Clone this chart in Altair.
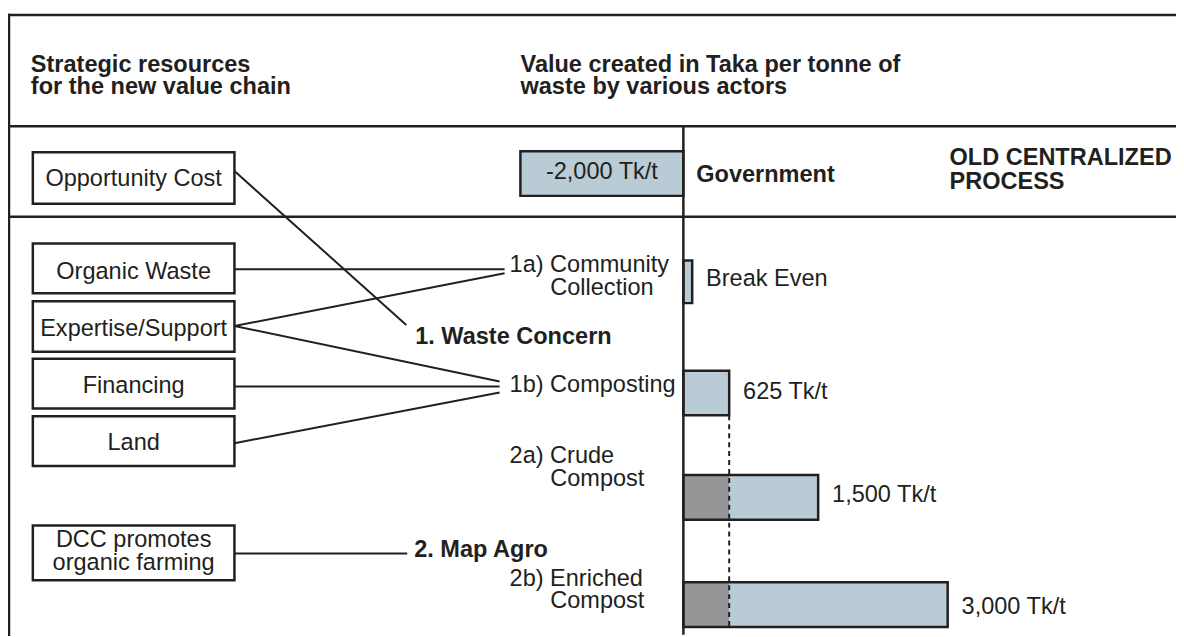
import altair as alt
import pandas as pd

# ---------------- content (texts and values) ----------------
header_left = ["Strategic resources", "for the new value chain"]
header_right = ["Value created in Taka per tonne of", "waste by various actors"]
process_title = ["OLD CENTRALIZED", "PROCESS"]
resource_lines = ["Opportunity Cost", "Organic Waste", "Expertise/Support", "Financing",
                  "Land", "DCC promotes", "organic farming"]
actor_names = ["Government", "1. Waste Concern", "2. Map Agro"]
step_lines = ["1a) Community", "Collection", "1b) Composting", "2a) Crude", "Compost",
              "2b) Enriched", "Compost"]

# value bars (Tk per tonne); extents as drawn in the figure
bar_labels = ["-2,000 Tk/t", "Break Even", "625 Tk/t", "1,500 Tk/t", "3,000 Tk/t"]
bar_start = [-1850, 0, 0, 0, 0]
bar_end = [0, 100, 520, 1530, 3000]
composting_share = [0, 0, 0, 520, 520]   # dark part carried over from composting

# ---------------- layout (page pixels) ----------------
INK = "#231f20"
LIGHT = "#b9cbd5"
DARK = "#969698"
FONT = "Liberation Sans"
FS = 23.7
W, H = 1176, 629
X_LAYOUT = alt.Scale(domain=[8, 1184], nice=False, zero=False)
Y_LAYOUT = alt.Scale(domain=[8, 637], reverse=True, nice=False, zero=False)
ZERO_PX = 688
PX_PER_TK = 0.0887
X_TK = alt.Scale(domain=[(8 - ZERO_PX) / PX_PER_TK, (1184 - ZERO_PX) / PX_PER_TK],
                 nice=False, zero=False)

frame_x = [9, 9, 9, 9]
frame_y = [13, 13, 125, 216]
frame_x2 = [1184, 9, 1184, 1184]
frame_y2 = [13, 637, 125, 216]

box_x0, box_x1 = 33, 236
res_box_top = [151, 243, 301, 359, 417, 527]
res_box_bottom = [203, 293, 352, 409, 467, 582]
res_text_y = [185, 279, 336, 393, 451, 549, 572]

conn_x = [236, 236, 236, 236, 236, 236, 236]
conn_y = [170, 269, 326, 326, 387, 444, 555]
conn_x2 = [409, 508, 508, 503, 503, 503, 410]
conn_y2 = [325, 269, 273, 382, 387, 393, 555]

head_y = [70, 92]
proc_y = [164, 188]
actor_x = [701, 418, 417]
actor_y = [181, 344, 559]
step_x = [513, 554, 513, 513, 554, 513, 554]
step_y = [272, 295, 392, 464, 487, 588, 610]

bar_top = [150, 260, 371, 476, 584]
bar_bottom = [195, 303, 416, 521, 629]
bar_label_y = [178, 286, 400, 503, 616]


def xl(f="x"):
    return alt.X(f"{f}:Q", scale=X_LAYOUT, axis=None)


def xt(f="v"):
    return alt.X(f"{f}:Q", scale=X_TK, axis=None)


def yl(f="y"):
    return alt.Y(f"{f}:Q", scale=Y_LAYOUT, axis=None)


def text_layer(df, xenc, align, weight, dx=0):
    return alt.Chart(df).mark_text(
        align=align, baseline="alphabetic", font=FONT, fontSize=FS,
        fontWeight=weight, color=INK, dx=dx
    ).encode(x=xenc, y=yl(), text="t:N")


# frame lines
frame_df = pd.DataFrame({"x": frame_x, "y": frame_y, "x2": frame_x2, "y2": frame_y2})
frame = alt.Chart(frame_df).mark_rule(color=INK, strokeWidth=2.5, strokeCap="square").encode(
    x=xl(), x2="x2:Q", y=yl(), y2="y2:Q")

# zero line of the value scale
zero_df = pd.DataFrame({"v": [0], "y": [125], "y2": [637]})
zero_rule = alt.Chart(zero_df).mark_rule(color=INK, strokeWidth=2.5).encode(
    x=xt(), y=yl(), y2="y2:Q")

# connectors
conn_df = pd.DataFrame({"x": conn_x, "y": conn_y, "x2": conn_x2, "y2": conn_y2})
conns = alt.Chart(conn_df).mark_rule(color=INK, strokeWidth=2).encode(
    x=xl(), x2="x2:Q", y=yl(), y2="y2:Q")

# resource boxes
box_df = pd.DataFrame({"x": [box_x0] * len(res_box_top), "x2": [box_x1] * len(res_box_top),
                       "y": res_box_top, "y2": res_box_bottom})
boxes = alt.Chart(box_df).mark_rect(fill="white", stroke=INK, strokeWidth=2.5).encode(
    x=xl(), x2="x2:Q", y=yl(), y2="y2:Q")

# bar fills
seg_v, seg_v2, seg_y, seg_y2, seg_k = [], [], [], [], []
for i in range(len(bar_labels)):
    if composting_share[i] > 0:
        seg_v += [bar_start[i], composting_share[i]]
        seg_v2 += [composting_share[i], bar_end[i]]
        seg_y += [bar_top[i]] * 2
        seg_y2 += [bar_bottom[i]] * 2
        seg_k += ["composting", "value"]
    else:
        seg_v.append(bar_start[i])
        seg_v2.append(bar_end[i])
        seg_y.append(bar_top[i])
        seg_y2.append(bar_bottom[i])
        seg_k.append("value")
seg_df = pd.DataFrame({"v": seg_v, "v2": seg_v2, "y": seg_y, "y2": seg_y2, "k": seg_k})
fills = alt.Chart(seg_df).mark_rect(strokeWidth=0).encode(
    x=xt(), x2="v2:Q", y=yl(), y2="y2:Q",
    color=alt.Color("k:N", scale=alt.Scale(domain=["value", "composting"], range=[LIGHT, DARK]),
                    legend=None))

# bar outlines
out_df = pd.DataFrame({"v": bar_start, "v2": bar_end, "y": bar_top, "y2": bar_bottom})
outlines = alt.Chart(out_df).mark_rect(fillOpacity=0, stroke=INK, strokeWidth=2.5).encode(
    x=xt(), x2="v2:Q", y=yl(), y2="y2:Q")

# dashed composting reference line
dash_df = pd.DataFrame({"v": [composting_share[3]], "y": [bar_bottom[2]], "y2": [bar_bottom[4]]})
dashed = alt.Chart(dash_df).mark_rule(color=INK, strokeWidth=2, strokeDash=[5, 4]).encode(
    x=xt(), y=yl(), y2="y2:Q")

# texts
hl = pd.DataFrame({"t": header_left, "x": [31, 31], "y": head_y})
hr = pd.DataFrame({"t": header_right, "x": [524, 524], "y": head_y})
pt = pd.DataFrame({"t": process_title, "x": [956, 956], "y": proc_y})
ac = pd.DataFrame({"t": actor_names, "x": actor_x, "y": actor_y})
rs = pd.DataFrame({"t": resource_lines, "x": [(box_x0 + box_x1) / 2] * len(resource_lines),
                   "y": res_text_y})
st = pd.DataFrame({"t": step_lines, "x": step_x, "y": step_y})
gov_lab = pd.DataFrame({"t": bar_labels[:1], "v": [(bar_start[0] + bar_end[0]) / 2],
                        "y": bar_label_y[:1]})
val_lab = pd.DataFrame({"t": bar_labels[1:], "v": bar_end[1:], "y": bar_label_y[1:]})

texts = [
    text_layer(hl, xl(), "left", "bold"),
    text_layer(hr, xl(), "left", "bold"),
    text_layer(pt, xl(), "left", "bold"),
    text_layer(ac, xl(), "left", "bold"),
    text_layer(rs, xl(), "center", "normal"),
    text_layer(st, xl(), "left", "normal"),
    text_layer(gov_lab, xt(), "center", "normal"),
    text_layer(val_lab, xt(), "left", "normal", dx=14),
]

chart = alt.layer(frame, conns, boxes, fills, outlines, dashed, zero_rule, *texts).resolve_scale(
    x="independent"
).properties(
    width=W, height=H, autosize=alt.AutoSizeParams(type="none"), padding=0, background="white"
).configure_view(stroke=None)

chart.save("out.html", embed_options={"renderer": "svg", "actions": False})
